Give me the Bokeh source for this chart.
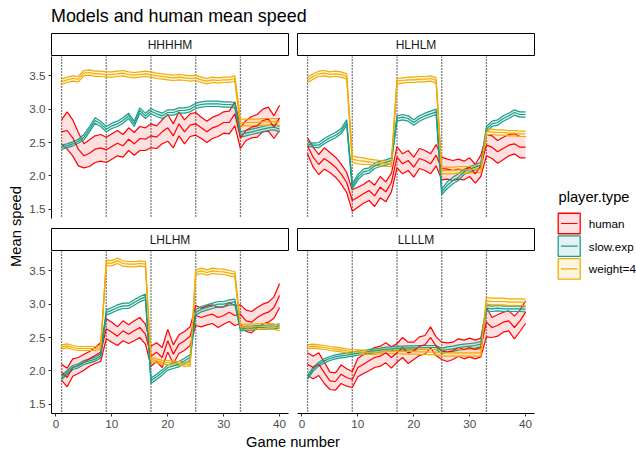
import numpy as np
from bokeh.plotting import figure
from bokeh.layouts import row, column
from bokeh.models import Range1d, FixedTicker, Span, ColumnDataSource, PrintfTickFormatter
from bokeh.core.properties import value
from bokeh.embed import file_html
from bokeh.resources import INLINE

FONT = "Liberation Sans"

# ---------------- data ----------------
games = list(range(1, 41))
block_starts = [1, 9, 17, 25, 33]
x_ticks = [0, 10, 20, 30, 40]
y_ticks = [1.5, 2.0, 2.5, 3.0, 3.5]
panel_names = ["HHHHM", "HLHLM", "LHLHM", "LLLLM"]
player_types = ["human", "slow.exp", "weight=4"]
player_colors = ["#FF0000", "#1B9E8A", "#F2AC00"]

# HHHHM
hhhhm_human_mean = [2.66, 2.68, 2.57, 2.40, 2.30, 2.34, 2.40, 2.42, 2.39, 2.44, 2.49, 2.45, 2.55, 2.48, 2.56, 2.55,
                    2.60, 2.58, 2.66, 2.72, 2.60, 2.78, 2.66, 2.76, 2.78, 2.72, 2.66, 2.72, 2.75, 2.80, 2.80, 2.93,
                    2.57, 2.68, 2.73, 2.75, 2.83, 2.85, 2.73, 2.87]
hhhhm_human_hw = [0.18, 0.28, 0.27, 0.25, 0.18, 0.20, 0.20, 0.20, 0.19, 0.19, 0.19, 0.17, 0.17, 0.17, 0.18, 0.17,
                  0.18, 0.17, 0.18, 0.20, 0.18, 0.18, 0.18, 0.17, 0.17, 0.16, 0.16, 0.16, 0.16, 0.16, 0.17, 0.18,
                  0.16, 0.15, 0.16, 0.17, 0.17, 0.18, 0.17, 0.19]
hhhhm_slow_mean = [2.43, 2.45, 2.48, 2.52, 2.58, 2.70, 2.83, 2.78, 2.70, 2.75, 2.78, 2.83, 2.90, 2.78, 2.98, 2.90,
                   2.97, 2.93, 2.90, 2.95, 2.95, 2.98, 2.98, 3.00, 3.05, 3.07, 3.08, 3.08, 3.08, 3.07, 3.07, 3.06,
                   2.62, 2.64, 2.66, 2.68, 2.70, 2.72, 2.73, 2.70]
hhhhm_slow_hw = [0.03, 0.03, 0.03, 0.03, 0.04, 0.04, 0.04, 0.04, 0.04, 0.04, 0.04, 0.04, 0.04, 0.04, 0.04, 0.04,
                 0.04, 0.04, 0.04, 0.04, 0.04, 0.04, 0.04, 0.04, 0.04, 0.04, 0.04, 0.04, 0.04, 0.04, 0.04, 0.04,
                 0.04, 0.04, 0.04, 0.04, 0.04, 0.04, 0.04, 0.04]
hhhhm_w4_mean = [3.41, 3.44, 3.46, 3.45, 3.54, 3.55, 3.53, 3.53, 3.52, 3.52, 3.53, 3.54, 3.52, 3.51, 3.52, 3.53,
                 3.52, 3.50, 3.49, 3.48, 3.47, 3.48, 3.47, 3.46, 3.47, 3.44, 3.42, 3.44, 3.43, 3.44, 3.44, 3.46,
                 2.80, 2.80, 2.80, 2.80, 2.81, 2.81, 2.81, 2.81]
hhhhm_w4_hw = [0.04, 0.04, 0.04, 0.04, 0.04, 0.04, 0.04, 0.04, 0.04, 0.04, 0.04, 0.04, 0.04, 0.04, 0.04, 0.04,
               0.04, 0.04, 0.04, 0.04, 0.04, 0.04, 0.04, 0.04, 0.04, 0.04, 0.04, 0.04, 0.04, 0.04, 0.04, 0.04,
               0.05, 0.05, 0.05, 0.05, 0.05, 0.05, 0.05, 0.05]

# HLHLM
hlhlm_human_mean = [2.45, 2.28, 2.17, 2.26, 2.20, 2.13, 2.03, 1.90, 1.63, 1.68, 1.73, 1.78, 1.70, 1.83, 1.76, 1.90,
                    2.28, 2.18, 2.23, 2.13, 2.26, 2.23, 2.18, 2.31, 2.11, 2.10, 2.08, 2.10, 2.08, 2.13, 2.03, 2.15,
                    2.46, 2.43, 2.36, 2.41, 2.46, 2.48, 2.43, 2.43]
hlhlm_human_hw = [0.12, 0.15, 0.15, 0.16, 0.15, 0.15, 0.15, 0.15, 0.16, 0.15, 0.14, 0.15, 0.16, 0.16, 0.15, 0.14,
                  0.16, 0.15, 0.15, 0.15, 0.15, 0.15, 0.15, 0.16, 0.17, 0.15, 0.15, 0.15, 0.14, 0.14, 0.14, 0.16,
                  0.16, 0.17, 0.17, 0.17, 0.16, 0.15, 0.16, 0.16]
hlhlm_slow_mean = [2.48, 2.46, 2.46, 2.52, 2.57, 2.61, 2.67, 2.80, 1.84, 1.98, 2.06, 2.08, 2.15, 2.18, 2.20, 2.23,
                   2.86, 2.88, 2.86, 2.80, 2.86, 2.90, 2.93, 2.96, 1.76, 1.86, 1.93, 1.98, 2.06, 2.10, 2.13, 2.16,
                   2.70, 2.78, 2.80, 2.86, 2.90, 2.95, 2.92, 2.92]
hlhlm_slow_hw = [0.03, 0.03, 0.04, 0.04, 0.04, 0.04, 0.04, 0.04, 0.04, 0.04, 0.04, 0.04, 0.04, 0.04, 0.04, 0.04,
                 0.04, 0.04, 0.04, 0.04, 0.04, 0.04, 0.04, 0.04, 0.04, 0.05, 0.05, 0.05, 0.04, 0.04, 0.04, 0.04,
                 0.04, 0.04, 0.04, 0.04, 0.04, 0.04, 0.04, 0.04]
hlhlm_w4_mean = [3.44, 3.49, 3.53, 3.54, 3.52, 3.53, 3.52, 3.49, 2.25, 2.23, 2.22, 2.21, 2.20, 2.19, 2.18, 2.18,
                 3.42, 3.43, 3.44, 3.44, 3.45, 3.45, 3.46, 3.43, 2.08, 2.08, 2.08, 2.09, 2.09, 2.09, 2.10, 2.10,
                 2.66, 2.66, 2.65, 2.65, 2.64, 2.64, 2.63, 2.63]
hlhlm_w4_hw = [0.04, 0.04, 0.04, 0.04, 0.04, 0.04, 0.04, 0.04, 0.05, 0.05, 0.05, 0.04, 0.04, 0.04, 0.04, 0.04,
               0.04, 0.04, 0.04, 0.04, 0.04, 0.04, 0.04, 0.04, 0.05, 0.05, 0.05, 0.05, 0.05, 0.05, 0.05, 0.05,
               0.04, 0.04, 0.04, 0.04, 0.04, 0.04, 0.04, 0.04]

# LHLHM
lhlhm_human_mean = [1.98, 1.90, 2.05, 2.08, 2.13, 2.18, 2.23, 2.28, 2.63, 2.58, 2.52, 2.60, 2.55, 2.60, 2.65, 2.55,
                    2.22, 2.28, 2.20, 2.45, 2.25, 2.40, 2.45, 2.52, 2.83, 2.80, 2.83, 2.85, 2.80, 2.83, 2.88, 2.83,
                    2.85, 2.75, 2.73, 2.80, 2.85, 2.88, 2.95, 3.13]
lhlhm_human_hw = [0.12, 0.14, 0.13, 0.12, 0.12, 0.11, 0.12, 0.14, 0.15, 0.15, 0.14, 0.15, 0.14, 0.15, 0.15, 0.15,
                  0.15, 0.14, 0.15, 0.17, 0.14, 0.14, 0.14, 0.14, 0.15, 0.14, 0.14, 0.14, 0.15, 0.13, 0.14, 0.15,
                  0.14, 0.16, 0.16, 0.15, 0.15, 0.15, 0.16, 0.18]
lhlhm_slow_mean = [1.90, 1.975, 2.05, 2.075, 2.125, 2.15, 2.175, 2.225, 2.875, 2.91, 2.95, 2.975, 2.975, 3.025, 3.075, 3.11,
                   1.85, 1.91, 1.975, 2.05, 2.075, 2.10, 2.15, 2.20, 2.875, 2.925, 2.95, 2.975, 3.00, 3.00, 3.025, 3.035,
                   2.625, 2.64, 2.64, 2.65, 2.65, 2.66, 2.66, 2.675]
lhlhm_slow_hw = [0.03, 0.03, 0.03, 0.03, 0.03, 0.03, 0.03, 0.03, 0.04, 0.04, 0.04, 0.04, 0.04, 0.04, 0.04, 0.04,
                 0.04, 0.04, 0.04, 0.04, 0.04, 0.04, 0.04, 0.04, 0.04, 0.04, 0.04, 0.04, 0.04, 0.04, 0.04, 0.04,
                 0.03, 0.03, 0.03, 0.03, 0.03, 0.03, 0.03, 0.03]
lhlhm_w4_mean = [2.36, 2.375, 2.35, 2.335, 2.335, 2.335, 2.335, 2.35, 3.62, 3.615, 3.65, 3.61, 3.60, 3.60, 3.61, 3.60,
                 2.175, 2.15, 2.13, 2.125, 2.115, 2.11, 2.10, 2.10, 3.475, 3.50, 3.475, 3.50, 3.49, 3.485, 3.465, 3.45,
                 2.66, 2.66, 2.665, 2.665, 2.67, 2.67, 2.665, 2.64]
lhlhm_w4_hw = [0.03, 0.03, 0.03, 0.03, 0.03, 0.03, 0.03, 0.03, 0.04, 0.04, 0.04, 0.04, 0.04, 0.04, 0.04, 0.04,
               0.03, 0.03, 0.03, 0.03, 0.03, 0.03, 0.03, 0.03, 0.04, 0.04, 0.04, 0.04, 0.04, 0.04, 0.04, 0.04,
               0.04, 0.04, 0.04, 0.04, 0.04, 0.04, 0.04, 0.04]

# LLLLM
llllm_human_mean = [2.10, 2.05, 2.10, 1.97, 1.85, 1.84, 1.95, 1.90, 1.87, 2.05, 2.10, 2.15, 2.20, 2.22, 2.27, 2.20,
                    2.27, 2.35, 2.27, 2.30, 2.37, 2.39, 2.50, 2.37, 2.30, 2.28, 2.30, 2.35, 2.32, 2.35, 2.32, 2.35,
                    2.73, 2.65, 2.68, 2.73, 2.75, 2.65, 2.75, 2.88]
llllm_human_hw = [0.17, 0.17, 0.17, 0.16, 0.13, 0.13, 0.14, 0.13, 0.12, 0.14, 0.14, 0.15, 0.15, 0.15, 0.15, 0.16,
                  0.14, 0.15, 0.16, 0.13, 0.14, 0.14, 0.16, 0.14, 0.13, 0.14, 0.13, 0.13, 0.14, 0.14, 0.14, 0.14,
                  0.22, 0.15, 0.16, 0.15, 0.15, 0.17, 0.16, 0.17]
llllm_slow_mean = [1.90, 2.025, 2.10, 2.15, 2.185, 2.21, 2.225, 2.235, 2.25, 2.265, 2.275, 2.29, 2.30, 2.31, 2.325, 2.33,
                   2.34, 2.34, 2.345, 2.345, 2.35, 2.35, 2.35, 2.35, 2.30, 2.32, 2.33, 2.35, 2.36, 2.37, 2.38, 2.40,
                   2.94, 2.93, 2.94, 2.93, 2.93, 2.93, 2.93, 2.925]
llllm_slow_hw = [0.03, 0.03, 0.03, 0.03, 0.03, 0.03, 0.03, 0.03, 0.03, 0.03, 0.03, 0.03, 0.03, 0.03, 0.03, 0.03,
                 0.03, 0.03, 0.03, 0.03, 0.03, 0.03, 0.03, 0.03, 0.04, 0.04, 0.04, 0.04, 0.04, 0.04, 0.04, 0.04,
                 0.04, 0.04, 0.04, 0.04, 0.04, 0.04, 0.04, 0.04]
llllm_w4_mean = [2.36, 2.37, 2.36, 2.35, 2.335, 2.325, 2.315, 2.30, 2.29, 2.285, 2.28, 2.275, 2.275, 2.285, 2.29, 2.29,
                 2.30, 2.29, 2.29, 2.29, 2.285, 2.285, 2.28, 2.28, 2.275, 2.27, 2.27, 2.27, 2.27, 2.27, 2.27, 2.27,
                 3.05, 3.04, 3.04, 3.04, 3.03, 3.03, 3.03, 3.025]
llllm_w4_hw = [0.03, 0.03, 0.03, 0.03, 0.03, 0.03, 0.03, 0.03, 0.03, 0.03, 0.03, 0.03, 0.03, 0.03, 0.03, 0.03,
               0.04, 0.04, 0.04, 0.04, 0.04, 0.04, 0.04, 0.04, 0.05, 0.05, 0.05, 0.05, 0.05, 0.05, 0.05, 0.05,
               0.05, 0.05, 0.05, 0.05, 0.05, 0.05, 0.05, 0.05]

panel_series = {
    "HHHHM": [(hhhhm_human_mean, hhhhm_human_hw), (hhhhm_slow_mean, hhhhm_slow_hw), (hhhhm_w4_mean, hhhhm_w4_hw)],
    "HLHLM": [(hlhlm_human_mean, hlhlm_human_hw), (hlhlm_slow_mean, hlhlm_slow_hw), (hlhlm_w4_mean, hlhlm_w4_hw)],
    "LHLHM": [(lhlhm_human_mean, lhlhm_human_hw), (lhlhm_slow_mean, lhlhm_slow_hw), (lhlhm_w4_mean, lhlhm_w4_hw)],
    "LLLLM": [(llllm_human_mean, llllm_human_hw), (llllm_slow_mean, llllm_slow_hw), (llllm_w4_mean, llllm_w4_hw)],
}

# ---------------- helpers ----------------
X_RANGE = (-0.8, 41.6)
Y_RANGE = (1.36, 3.79)
LW = 1.2


def base_fig(width, height, **kw):
    opts = dict(width=width, height=height, output_backend="svg", toolbar_location=None, title=None,
                min_border_left=0, min_border_right=0, min_border_top=0, min_border_bottom=0,
                background_fill_color="white", border_fill_color="white", outline_line_color=None,
                sizing_mode="fixed")
    opts.update(kw)
    f = figure(**opts)
    for g in f.xgrid + f.ygrid:
        g.visible = False
    return f


def text_fig(width, height, txt, x, y, size, align="left", color="black"):
    f = base_fig(width, height, x_range=Range1d(0, width), y_range=Range1d(height, 0),
                 x_axis_location=None, y_axis_location=None)
    f.text(x=[x], y=[y], text=[txt], text_font=value(FONT), text_font_size=size, text_color=color,
           text_align=align, text_baseline="middle")
    return f


def make_strip(label, width, mbl):
    s = base_fig(width, 24, x_range=Range1d(0, 1), y_range=Range1d(0, 1),
                 x_axis_location=None, y_axis_location=None,
                 min_border_left=mbl, min_border_right=1, min_border_top=1,
                 outline_line_color="black", outline_line_width=1)
    s.text(x=[0.5], y=[0.5], text=[label], text_font=value(FONT), text_font_size="12px",
           text_color="#1A1A1A", text_align="center", text_baseline="middle")
    return s


def make_panel(name, width, height, mbl, mbb, show_x, show_y):
    p = base_fig(width, height, x_range=Range1d(*X_RANGE), y_range=Range1d(*Y_RANGE),
                 x_axis_location="below" if show_x else None,
                 y_axis_location="left" if show_y else None,
                 min_border_left=mbl, min_border_right=1, min_border_bottom=mbb)
    for ax in p.axis:
        ax.axis_line_color = "black"
        ax.axis_line_width = 1
        ax.major_tick_line_color = "#333333"
        ax.major_tick_out = 3
        ax.major_tick_in = 0
        ax.minor_tick_line_color = None
        ax.major_label_text_font = FONT
        ax.major_label_text_font_size = "11.7px"
        ax.major_label_text_color = "#4D4D4D"
        ax.major_label_standoff = 3
    if show_x:
        p.xaxis.ticker = FixedTicker(ticks=x_ticks)
    if show_y:
        p.yaxis.ticker = FixedTicker(ticks=y_ticks)
        p.yaxis.formatter = PrintfTickFormatter(format="%.1f")

    for b in block_starts:
        p.add_layout(Span(location=b, dimension="height", line_color="black",
                          line_width=1.3, line_dash="1 2", level="underlay"))

    sources = []
    for (mean, hw), col in zip(panel_series[name], player_colors):
        m = np.array(mean)
        h = np.array(hw)
        src = ColumnDataSource(dict(x=games, mean=m, lower=m - h, upper=m + h))
        sources.append((src, col))
        p.varea(x="x", y1="lower", y2="upper", source=src, fill_color=col, fill_alpha=0.12)
        p.line("x", "lower", source=src, line_color=col, line_width=LW)
        p.line("x", "upper", source=src, line_color=col, line_width=LW)
    for src, col in sources:
        p.line("x", "mean", source=src, line_color=col, line_width=LW)
    return p


# ---------------- layout (page content starts at 0,0) ----------------
TOTAL_W = 636
YLAB_W, LEFT_W, RIGHT_W = 24, 265, 246
LEG_W = TOTAL_W - YLAB_W - LEFT_W - RIGHT_W
MBL_LEFT, MBL_RIGHT = 27, 8
TITLE_H = 32
TOP_H, BOT_H = 171, 182
MID_H = 24 + TOP_H + 24 + BOT_H
XLAB_H = 17

strip_tl = make_strip(panel_names[0], LEFT_W, MBL_LEFT)
strip_tr = make_strip(panel_names[1], RIGHT_W, MBL_RIGHT)
strip_bl = make_strip(panel_names[2], LEFT_W, MBL_LEFT)
strip_br = make_strip(panel_names[3], RIGHT_W, MBL_RIGHT)

p_tl = make_panel(panel_names[0], LEFT_W, TOP_H, MBL_LEFT, 9, False, True)
p_tr = make_panel(panel_names[1], RIGHT_W, TOP_H, MBL_RIGHT, 9, False, False)
p_bl = make_panel(panel_names[2], LEFT_W, BOT_H, MBL_LEFT, 20, True, True)
p_br = make_panel(panel_names[3], RIGHT_W, BOT_H, MBL_RIGHT, 20, True, False)

panels_col = column(row(strip_tl, strip_tr), row(p_tl, p_tr), row(strip_bl, strip_br), row(p_bl, p_br))

title_fig = text_fig(TOTAL_W, TITLE_H, "Models and human mean speed", 50.5, 15.7, "17.9px")

ylab_fig = base_fig(YLAB_W, MID_H, x_range=Range1d(0, YLAB_W), y_range=Range1d(0, MID_H),
                    x_axis_location=None, y_axis_location=None)
ylab_fig.text(x=[15.8], y=[MID_H - 194], text=["Mean speed"], text_font=value(FONT), text_font_size="14.7px",
              text_align="center", text_baseline="middle", angle=np.pi / 2, text_color="black")

xlab_fig = text_fig(TOTAL_W, XLAB_H, "Game number", 292.5, 8.0, "14.7px", align="center")

# legend
leg = base_fig(LEG_W, MID_H, x_range=Range1d(0, LEG_W), y_range=Range1d(MID_H, 0),
               x_axis_location=None, y_axis_location=None)
leg.text(x=[23], y=[164.6], text=["player.type"], text_font=value(FONT), text_font_size="14.7px",
         text_align="left", text_baseline="middle", text_color="black")
key_y = [191.0 + 22.7 * i for i in range(len(player_types))]
leg.rect(x=[33.7] * 3, y=key_y, width=22, height=20.5, fill_color=player_colors, fill_alpha=0.12,
         line_color=player_colors, line_width=1.3)
leg.segment(x0=[25.5] * 3, x1=[42] * 3, y0=key_y, y1=key_y, line_color=player_colors, line_width=LW)
leg.text(x=[53.3] * 3, y=key_y, text=player_types, text_font=value(FONT), text_font_size="11.7px",
         text_align="left", text_baseline="middle", text_color="black")

layout = column(title_fig, row(ylab_fig, panels_col, leg), xlab_fig)

with open("out.html", "w") as fh:
    fh.write(file_html(layout, INLINE))
